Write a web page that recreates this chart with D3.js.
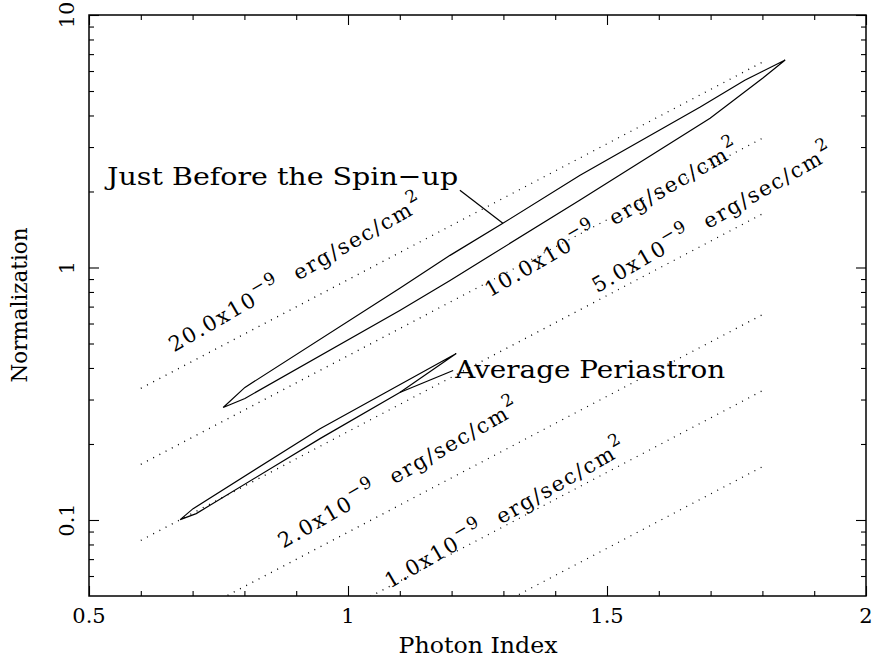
<!DOCTYPE html>
<html>
<head>
<meta charset="utf-8">
<script src="https://cdn.jsdelivr.net/npm/d3@7"></script>
<style>
  body { margin: 0; background: #fff; }
  svg { display: block; }
  text { font-family: "DejaVu Serif", serif; fill: #000; }
</style>
</head>
<body>
<svg width="874" height="663"></svg>
<script>
// axis ticks
var xMajor = [0.5, 1, 1.5, 2];
var xMinor = [0.6, 0.7, 0.8, 0.9, 1.1, 1.2, 1.3, 1.4, 1.6, 1.7, 1.8, 1.9];
var xTickLabels = ["0.5", "1", "1.5", "2"];
var yMajor = [0.1, 1, 10];
var yMinor = [0.06, 0.07, 0.08, 0.09, 0.2, 0.3, 0.4, 0.5, 0.6, 0.7, 0.8, 0.9, 2, 3, 4, 5, 6, 7, 8, 9];
var yTickLabels = ["0.1", "1", "10"];

// constant flux lines (1e-9 erg/sec/cm^2): normalization at photon index 0.6 and 1.8
var fluxIndexRange = [0.6, 1.8];
var fluxLevels = [20, 10, 5, 2, 1, 0.5];
var fluxNormLo = [0.332, 0.166, 0.083, 0.0332, 0.0166, 0.0083];
var fluxNormHi = [6.5, 3.25, 1.63, 0.65, 0.325, 0.1625];
var fluxLabelled = [20, 10, 5, 2, 1];
var fluxLabelAt = [[0.664, 0.461], [1.274, 0.761], [1.481, 0.790], [0.875, 0.0769], [1.081, 0.0534]];

// confidence contours [photon index, normalization]
var spinUpContour = [
  [0.759, 0.279], [0.801, 0.335], [1.100, 0.827], [1.197, 1.117], [1.299, 1.496],
  [1.448, 2.32], [1.680, 4.32], [1.766, 5.52], [1.844, 6.63],
  [1.801, 5.63], [1.699, 3.90], [1.448, 1.85], [1.197, 0.889], [1.100, 0.676], [0.801, 0.303]
];
var periastronContour = [
  [0.676, 0.1003], [0.701, 0.1109], [0.946, 0.230], [1.209, 0.4565],
  [1.100, 0.320], [0.946, 0.210], [0.707, 0.106]
];

// annotations
var spinUpLabel = "Just Before the Spin\u2212up";
var spinUpLabelAt = [0.535, 2.118];
var spinUpPointer = [[1.216, 2.023], [1.299, 1.496]];
var periastronLabel = "Average Periastron";
var periastronLabelAt = [1.207, 0.3666];
var periastronPointer = [[1.203, 0.391], [1.100, 0.320]];

var svg = d3.select("svg"),
    frame = {left: 89, right: 866, top: 15, bottom: 596};

var x = d3.scaleLinear().domain([0.5, 2]).range([frame.left, frame.right]),
    y = d3.scaleLog().domain([0.05, 10]).range([frame.bottom, frame.top]);

var line = d3.line()
    .x(function(d) { return x(d[0]); })
    .y(function(d) { return y(d[1]); });

svg.append("clipPath").attr("id", "plot")
  .append("rect")
    .attr("x", frame.left).attr("y", frame.top)
    .attr("width", frame.right - frame.left).attr("height", frame.bottom - frame.top);

// flux lines
svg.append("g")
    .attr("clip-path", "url(#plot)")
  .selectAll("path")
  .data(fluxLevels)
  .enter().append("path")
    .attr("d", function(d, i) {
      return line([[fluxIndexRange[0], fluxNormLo[i]], [fluxIndexRange[1], fluxNormHi[i]]]);
    })
    .attr("fill", "none")
    .attr("stroke", "#000")
    .attr("stroke-width", 1.3)
    .attr("stroke-dasharray", "1,6");

// flux labels
var fl = svg.append("g").selectAll("text")
  .data(fluxLabelled)
  .enter().append("text")
    .attr("transform", function(d, i) {
      return "translate(" + x(fluxLabelAt[i][0]) + "," + y(fluxLabelAt[i][1]) + ") rotate(-30)";
    })
    .style("font-size", "21px")
    .style("letter-spacing", "1.8px");
fl.append("tspan").text(function(d) { return d.toFixed(1) + "x10"; });
fl.append("tspan").attr("dy", -10).style("font-size", "17px").text("\u22129");
fl.append("tspan").attr("dy", 10).text("\u00a0 erg/sec/cm");
fl.append("tspan").attr("dy", -11).style("font-size", "17px").text("2");

// contours
[spinUpContour, periastronContour].forEach(function(c) {
  svg.append("path")
      .attr("d", line.curve(d3.curveLinearClosed)(c))
      .attr("fill", "none")
      .attr("stroke", "#000")
      .attr("stroke-width", 1.2);
});
line.curve(d3.curveLinear);

[spinUpPointer, periastronPointer].forEach(function(p) {
  svg.append("path")
      .attr("d", line(p))
      .attr("stroke", "#000")
      .attr("stroke-width", 1.2);
});

svg.append("text")
    .attr("x", x(spinUpLabelAt[0])).attr("y", y(spinUpLabelAt[1]))
    .attr("textLength", 351).attr("lengthAdjust", "spacingAndGlyphs")
    .style("font-size", "25px")
    .text(spinUpLabel);

svg.append("text")
    .attr("x", x(periastronLabelAt[0])).attr("y", y(periastronLabelAt[1]))
    .attr("textLength", 270).attr("lengthAdjust", "spacingAndGlyphs")
    .style("font-size", "24px")
    .text(periastronLabel);

// axes: ticks point inward on all four sides
function ticks(axis, scale, values, size, tx, ty) {
  svg.append("g")
      .attr("transform", "translate(" + tx + "," + ty + ")")
      .call(axis(scale).tickValues(values).tickSizeInner(-size).tickSizeOuter(0).tickFormat(""))
      .call(function(g) { g.select(".domain").remove(); })
      .selectAll("line").attr("stroke", "#000").attr("stroke-width", 1.1);
}
ticks(d3.axisBottom, x, xMajor, 10, 0, frame.bottom);
ticks(d3.axisBottom, x, xMinor, 5, 0, frame.bottom);
ticks(d3.axisTop, x, xMajor, 10, 0, frame.top);
ticks(d3.axisTop, x, xMinor, 5, 0, frame.top);
ticks(d3.axisLeft, y, yMajor, 10, frame.left, 0);
ticks(d3.axisLeft, y, yMinor, 5, frame.left, 0);
ticks(d3.axisRight, y, yMajor, 10, frame.right, 0);
ticks(d3.axisRight, y, yMinor, 5, frame.right, 0);

svg.append("rect")
    .attr("x", frame.left).attr("y", frame.top)
    .attr("width", frame.right - frame.left).attr("height", frame.bottom - frame.top)
    .attr("fill", "none")
    .attr("stroke", "#000")
    .attr("stroke-width", 1.5);

svg.append("g").selectAll("text")
  .data(xMajor)
  .enter().append("text")
    .attr("x", function(d) { return x(d); })
    .attr("y", 623)
    .attr("text-anchor", "middle")
    .style("font-size", "21px")
    .text(function(d, i) { return xTickLabels[i]; });

svg.append("g").selectAll("text")
  .data(yMajor)
  .enter().append("text")
    .attr("transform", function(d) { return "translate(74," + y(d) + ") rotate(-90)"; })
    .attr("text-anchor", "middle")
    .style("font-size", "21px")
    .text(function(d, i) { return yTickLabels[i]; });

svg.append("text")
    .attr("x", 478).attr("y", 653)
    .attr("text-anchor", "middle")
    .attr("textLength", 159).attr("lengthAdjust", "spacingAndGlyphs")
    .style("font-size", "22px")
    .text("Photon Index");

svg.append("text")
    .attr("transform", "translate(27,305) rotate(-90)")
    .attr("text-anchor", "middle")
    .attr("textLength", 155).attr("lengthAdjust", "spacingAndGlyphs")
    .style("font-size", "22px")
    .text("Normalization");
</script>
</body>
</html>
